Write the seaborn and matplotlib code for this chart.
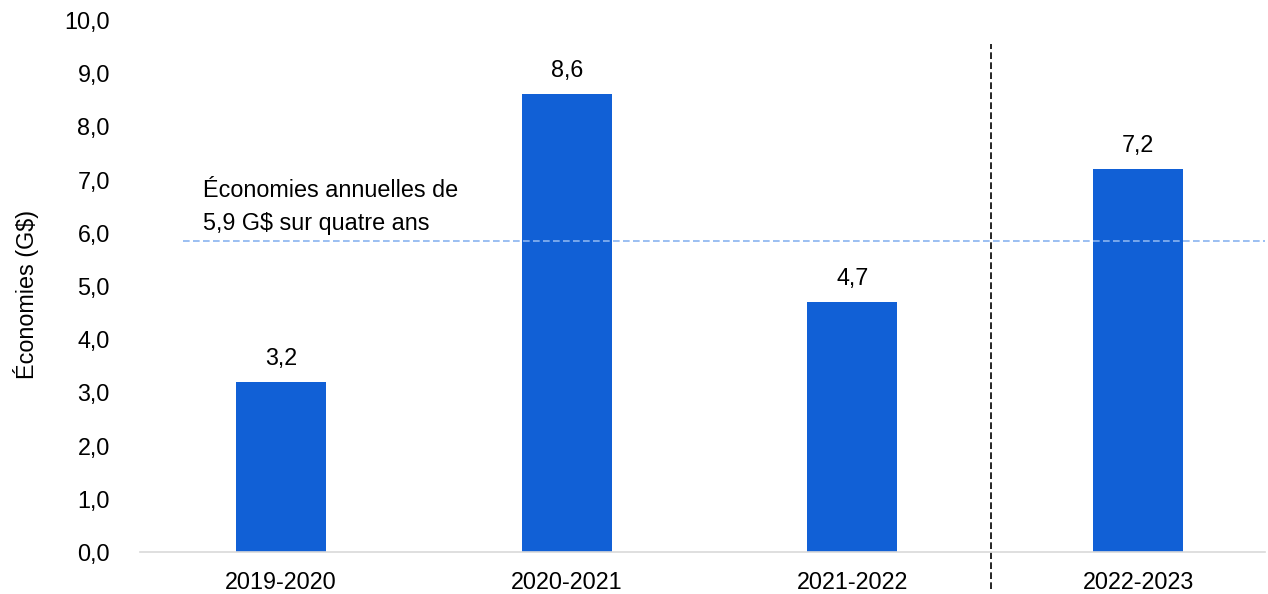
import matplotlib
matplotlib.use("Agg")
import matplotlib.pyplot as plt
import seaborn as sns
import pandas as pd
from matplotlib.ticker import FuncFormatter

periods = ["2019-2020", "2020-2021", "2021-2022", "2022-2023"]
savings = [3.2, 8.6, 4.7, 7.2]
avg_level = 5.85
annotation_lines = ["Économies annuelles de", "5,9 G$ sur quatre ans"]
y_label = "Économies (G$)"

sns.set_theme(style="white")
plt.rcParams["font.family"] = ["Liberation Sans", "DejaVu Sans"]

FS = 16.8
fig = plt.figure(figsize=(12.68, 5.94), dpi=100)
ax = fig.add_axes([140/1268, 1-552/594, (1265-140)/1268, (552-20)/594])

df = pd.DataFrame({"period": periods, "savings": savings})
sns.barplot(data=df, x="period", y="savings", color="#1160D6", saturation=1,
            width=0.315, linewidth=0, ax=ax)

ax.set_xlim(-0.493, 3.444)
ax.set_ylim(0, 10)
ax.set_yticks([i for i in range(11)])
ax.yaxis.set_major_formatter(FuncFormatter(lambda v, p: f"{v:.1f}".replace(".", ",")))
ax.tick_params(axis="both", length=0, labelsize=FS, colors="black")
ax.tick_params(axis="x", pad=13.5)
ax.tick_params(axis="y", pad=21.6)
ax.set_xlabel("")
ax.set_ylabel("")
for s in ["top", "right", "left"]:
    ax.spines[s].set_visible(False)
ax.spines["bottom"].set_color("#D9D9D9")
ax.spines["bottom"].set_linewidth(1.2)

for i, v in enumerate(savings):
    ax.text(i, v + 0.32, f"{v:.1f}".replace(".", ","), ha="center", va="baseline",
            fontsize=FS, color="black")

ax.plot([-0.343, 3.444], [avg_level, avg_level], linestyle=(0, (4, 2)),
        color="#8AB4F0", linewidth=1.2)
for k, line in enumerate(annotation_lines):
    ax.text(-0.273, 6.67 - 0.62 * k, line, ha="left", va="baseline", fontsize=FS,
            color="black")

ax.plot([2.486, 2.486], [-0.7, 9.55], linestyle=(0, (4, 2)), color="black",
        linewidth=1.2, clip_on=False)

fig.text(26/1268, 1-294/594, y_label, rotation=90, ha="center", va="center",
         fontsize=FS, color="black")

fig.savefig("out.png", dpi=100)
